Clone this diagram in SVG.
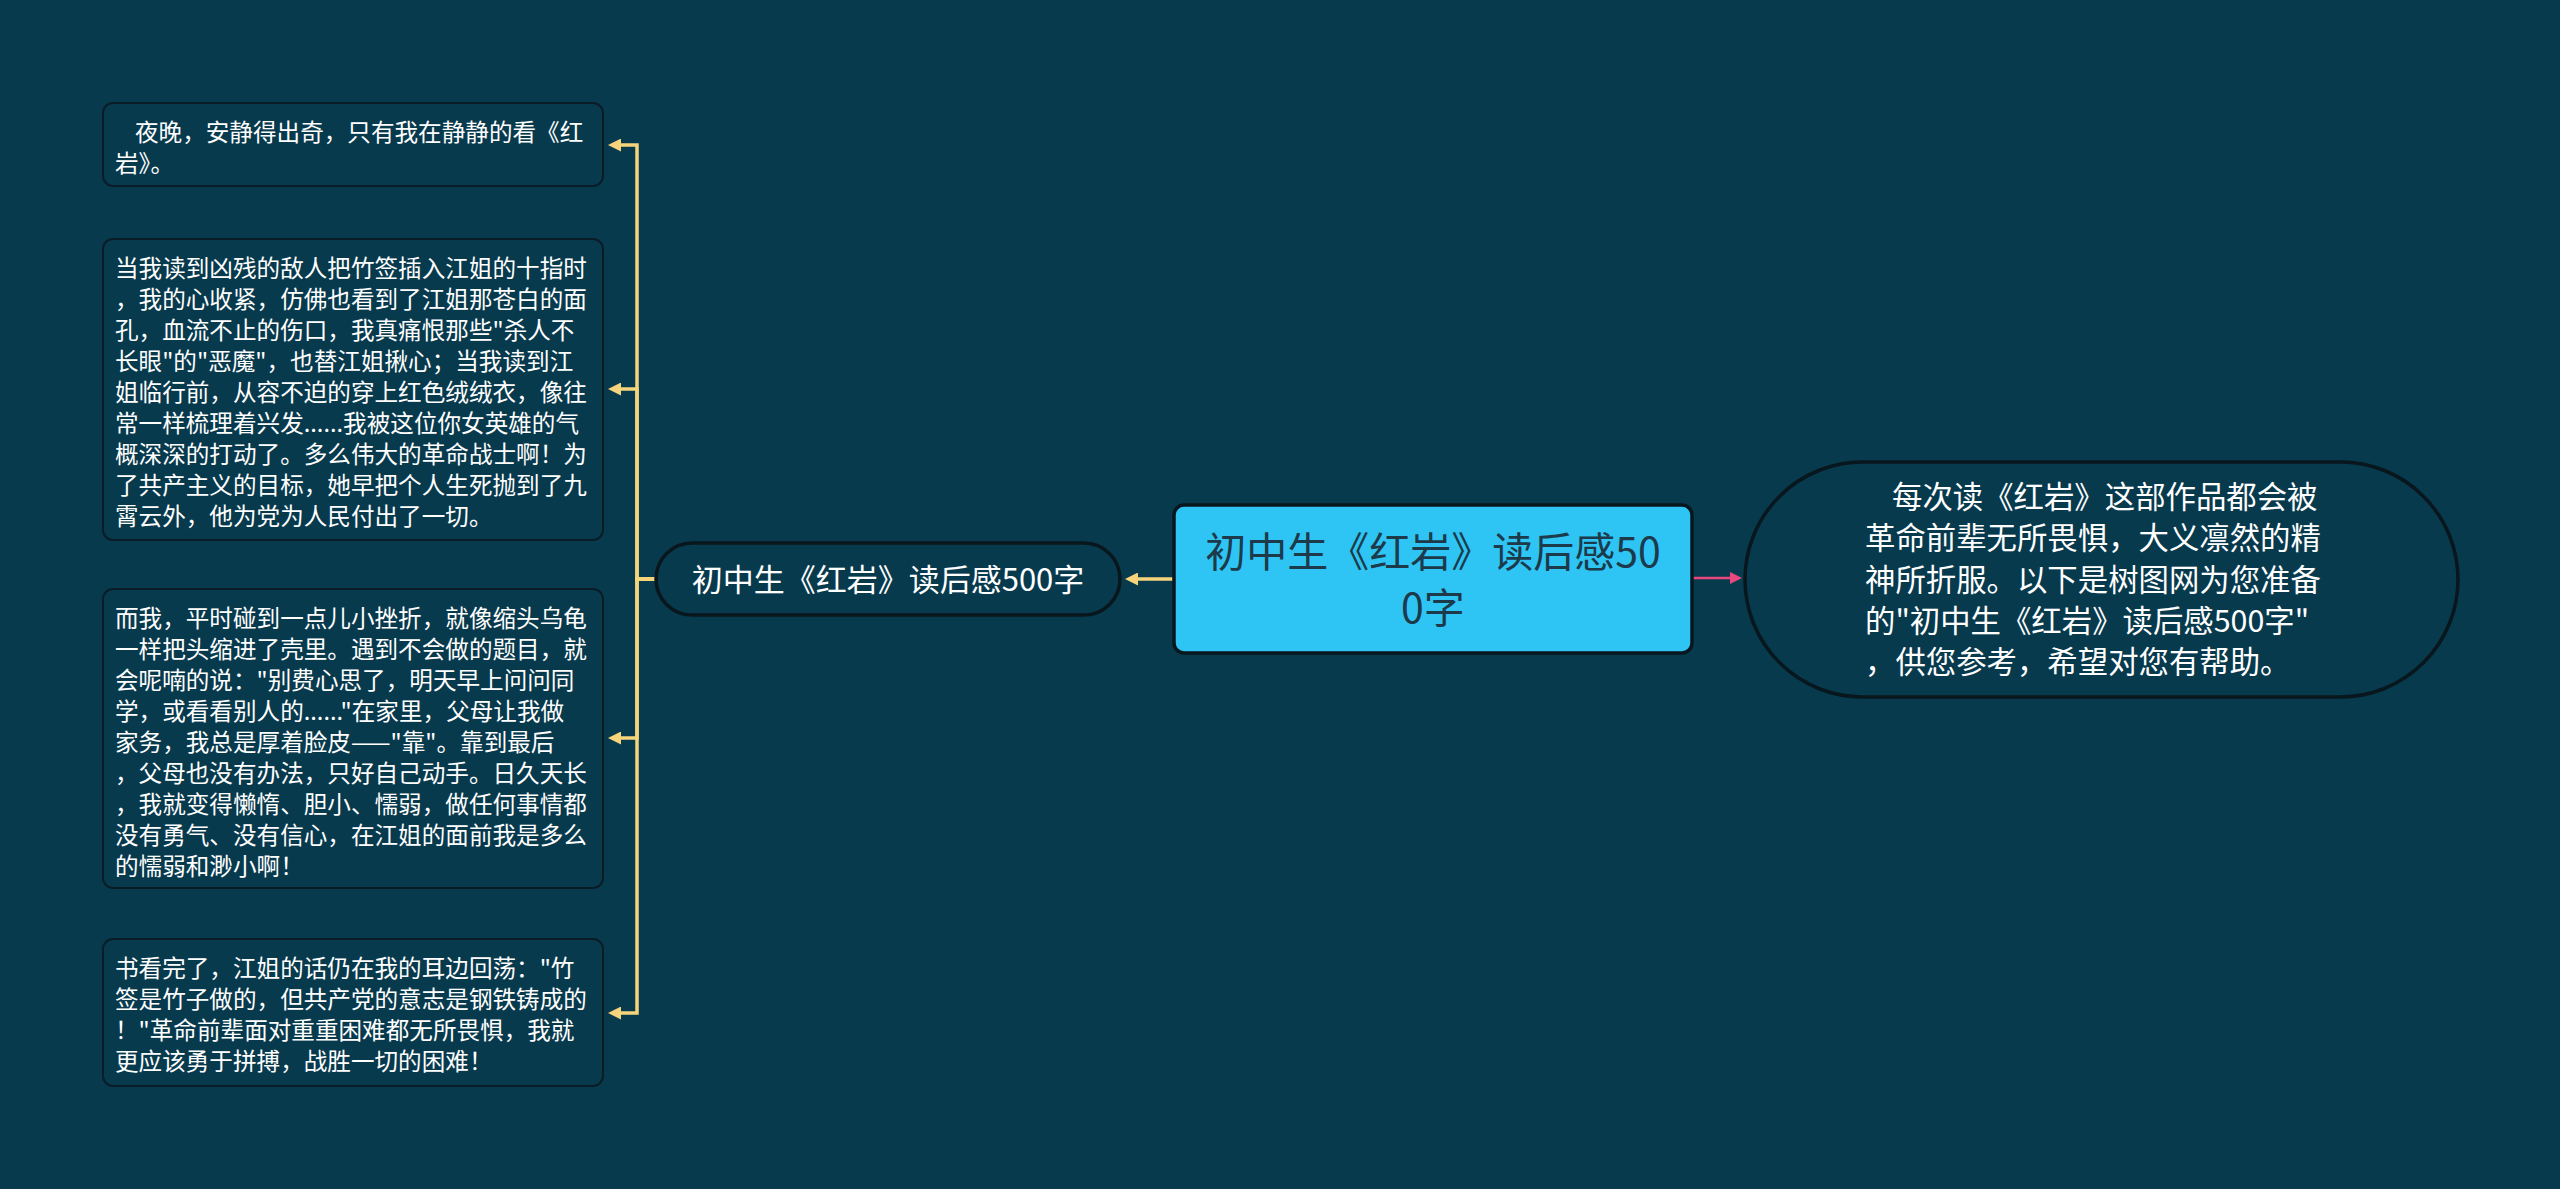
<svg xmlns="http://www.w3.org/2000/svg" width="2560" height="1189" viewBox="0 0 2560 1189">
<defs>
<style>
text{font-family:"Noto Sans CJK SC","Noto Sans",sans-serif;}
.leaf{fill:#083a4e;stroke:#0a1c26;stroke-width:2;}
.lt{font-size:23.6px;fill:#ffffff;}
.mid{fill:#083a4e;stroke:#08161d;stroke-width:3.5;}
.mt{font-size:31px;fill:#ffffff;}
.root{fill:#2ec5f4;stroke:#08161d;stroke-width:3.5;}
.rt{font-size:41px;fill:#1d3a4b;}
.pill{fill:#083a4e;stroke:#08161d;stroke-width:3.5;}
.pt{font-size:30.4px;fill:#ffffff;}
.yl{fill:none;stroke:#f5d47c;stroke-width:3.5;}
.pk{fill:none;stroke:#e8487e;stroke-width:2.5;}
</style>
<marker id="ay" markerUnits="userSpaceOnUse" markerWidth="13" markerHeight="13" refX="0" refY="6.5" orient="auto"><path d="M0,0 L13,6.5 L0,13 z" fill="#f5d47c"/></marker>
<marker id="ap" markerUnits="userSpaceOnUse" markerWidth="12" markerHeight="12" refX="0" refY="6" orient="auto"><path d="M0,0 L12,6 L0,12 z" fill="#e8487e"/></marker>
</defs>
<rect width="2560" height="1189" fill="#083a4e"/>
<g id="connectors">
<path class="yl" d="M656,579 H637 V145 H621" marker-end="url(#ay)"/>
<path class="yl" d="M656,579 H637 V389 H621" marker-end="url(#ay)"/>
<path class="yl" d="M656,579 H637 V738 H621" marker-end="url(#ay)"/>
<path class="yl" d="M656,579 H637 V1013 H621" marker-end="url(#ay)"/>
<path class="yl" d="M1174,579 H1138" marker-end="url(#ay)"/>
<path class="pk" d="M1692,578 H1730" marker-end="url(#ap)"/>
</g>
<g id="root">
<rect class="root" x="1174" y="505" width="518" height="148" rx="10"/>
<text class="rt" text-anchor="middle"><tspan x="1433" y="567">初中生《红岩》读后感50</tspan><tspan x="1433" y="623">0字</tspan></text>
</g>
<g id="summary">
<rect class="pill" x="1745" y="462" width="713" height="235" rx="117.5"/>
<text class="pt"><tspan x="1892" y="508">每次读《红岩》这部作品都会被</tspan><tspan x="1865" y="549">革命前辈无所畏惧，大义凛然的精</tspan><tspan x="1865" y="591">神所折服。以下是树图网为您准备</tspan><tspan x="1865" y="632">的"初中生《红岩》读后感500字"</tspan><tspan x="1865" y="673">，供您参考，希望对您有帮助。</tspan></text>
</g>
<g id="branch">
<rect class="mid" x="656" y="543" width="464" height="72" rx="36"/>
<text class="mt" x="888" y="591" text-anchor="middle">初中生《红岩》读后感500字</text>
</g>
<g id="leaf1">
<rect class="leaf" x="103" y="103" width="500" height="83" rx="10"/>
<text class="lt"><tspan x="135" y="141">夜晚，安静得出奇，只有我在静静的看《红</tspan><tspan x="115" y="172">岩》。</tspan></text>
</g>
<g id="leaf2">
<rect class="leaf" x="103" y="239" width="500" height="301" rx="10"/>
<text class="lt"><tspan x="115" y="277">当我读到凶残的敌人把竹签插入江姐的十指时</tspan><tspan x="115" y="308">，我的心收紧，仿佛也看到了江姐那苍白的面</tspan><tspan x="115" y="339">孔，血流不止的伤口，我真痛恨那些"杀人不</tspan><tspan x="115" y="370">长眼"的"恶魔"，也替江姐揪心；当我读到江</tspan><tspan x="115" y="401">姐临行前，从容不迫的穿上红色绒绒衣，像往</tspan><tspan x="115" y="432">常一样梳理着兴发......我被这位你女英雄的气</tspan><tspan x="115" y="463">概深深的打动了。多么伟大的革命战士啊！为</tspan><tspan x="115" y="494">了共产主义的目标，她早把个人生死抛到了九</tspan><tspan x="115" y="525">霄云外，他为党为人民付出了一切。</tspan></text>
</g>
<g id="leaf3">
<rect class="leaf" x="103" y="589" width="500" height="299" rx="10"/>
<text class="lt"><tspan x="115" y="627">而我，平时碰到一点儿小挫折，就像缩头乌龟</tspan><tspan x="115" y="658">一样把头缩进了壳里。遇到不会做的题目，就</tspan><tspan x="115" y="689">会呢喃的说："别费心思了，明天早上问问同</tspan><tspan x="115" y="720">学，或看看别人的......"在家里，父母让我做</tspan><tspan x="115" y="751">家务，我总是厚着脸皮——"靠"。靠到最后</tspan><tspan x="115" y="782">，父母也没有办法，只好自己动手。日久天长</tspan><tspan x="115" y="813">，我就变得懒惰、胆小、懦弱，做任何事情都</tspan><tspan x="115" y="844">没有勇气、没有信心，在江姐的面前我是多么</tspan><tspan x="115" y="875">的懦弱和渺小啊！</tspan></text>
</g>
<g id="leaf4">
<rect class="leaf" x="103" y="939" width="500" height="147" rx="10"/>
<text class="lt"><tspan x="115" y="977">书看完了，江姐的话仍在我的耳边回荡："竹</tspan><tspan x="115" y="1008">签是竹子做的，但共产党的意志是钢铁铸成的</tspan><tspan x="115" y="1039">！"革命前辈面对重重困难都无所畏惧，我就</tspan><tspan x="115" y="1070">更应该勇于拼搏，战胜一切的困难！</tspan></text>
</g>
</svg>
